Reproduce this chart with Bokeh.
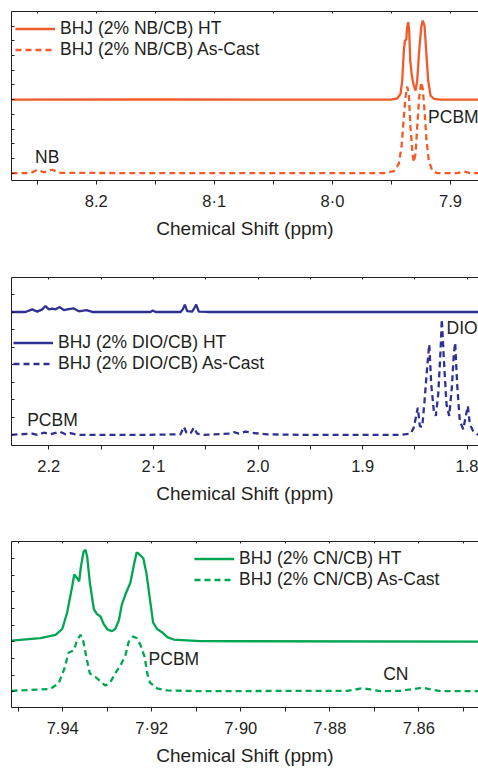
from bokeh.plotting import figure
from bokeh.layouts import column
from bokeh.models import (Range1d, FixedTicker, SingleIntervalTicker, LinearAxis,
                          CustomJSTickFormatter, Legend, LegendItem)
from bokeh.core.properties import value
from bokeh.embed import file_html
from bokeh.resources import INLINE

FONT = "Liberation Sans"
TXT = "#231F20"
AX = "#231F20"

# ---------------- Panel 1: NB ----------------
nb_ht_ppm = [8.2717, 8.15, 8.05, 7.9508, 7.9451, 7.9423, 7.9409, 7.9395, 7.9386, 7.9375,
             7.9367, 7.9358, 7.9350, 7.9341, 7.9328, 7.9311, 7.9296, 7.9282, 7.9265,
             7.9248, 7.9235, 7.9220, 7.9206, 7.9189, 7.9169, 7.9141, 7.9085, 7.8763]
nb_ht_int = [5.0, 5.02, 5.0, 5.01, 5.08, 5.4, 6.3, 8.34, 9.02, 9.07,
             9.93, 10.27, 9.7, 7.66, 6.64, 5.96, 5.62, 6.3, 8.34,
             9.93, 10.38, 10.04, 8.34, 6.3, 5.28, 5.06, 5.01, 5.0]
nb_cast_ppm = [8.2717, 8.2556, 8.2500, 8.2444, 8.2373, 8.2302, 8.1543, 7.9565, 7.9480,
               7.9438, 7.9415, 7.9395, 7.9381, 7.9367, 7.9353, 7.9339, 7.9322, 7.9311,
               7.9296, 7.9282, 7.9265, 7.9248, 7.9235, 7.9220, 7.9203, 7.9184, 7.9155,
               7.9113, 7.8943, 7.8887, 7.8831, 7.8763]
nb_cast_int = [0.0, 0.0, 0.23, 0.06, 0.23, 0.02, 0.0, 0.0, 0.13,
               0.64, 1.77, 3.81, 5.17, 5.89, 5.4, 3.13, 1.32, 0.75,
               1.32, 3.13, 5.17, 6.19, 5.74, 4.26, 2.22, 0.86, 0.18,
               0.0, 0.0, 0.11, 0.0, 0.0]
nb_labels = ["NB", "PCBM"]
nb_label_ppm = [8.2517, 7.9190]
nb_label_int = [1.13, 3.81]
nb_legend = ["BHJ (2% NB/CB) HT", "BHJ (2% NB/CB) As-Cast"]
nb_ticks = [8.25, 8.2, 8.15, 8.1, 8.05, 8.0, 7.95, 7.9]
nb_tick_labels = ["", "8.2", "", "8·1", "", "8·0", "", "7.9"]

# ---------------- Panel 2: DIO ----------------
dio_ht_ppm = [2.2357, 2.2223, 2.2159, 2.2111, 2.2063, 2.2032, 2.2000, 2.1968, 2.1936,
              2.1895, 2.1857, 2.1824, 2.1761, 2.1713, 2.1640, 2.1585, 2.1028, 2.1006,
              2.0980, 2.0741, 2.0719, 2.0700, 2.0677, 2.0629, 2.0607, 2.0591, 2.0566,
              2.0486, 1.7892]
dio_ht_int = [7.02, 7.02, 7.17, 7.04, 7.17, 7.36, 7.17, 7.21, 7.17,
              7.30, 7.13, 7.17, 7.22, 7.06, 7.12, 7.02, 7.02, 7.10,
              7.02, 7.02, 7.17, 7.44, 7.07, 7.04, 7.26, 7.44, 7.04,
              7.02, 7.02]
dio_cast_ppm = [2.2357, 2.2159, 2.2111, 2.2048, 2.1984, 2.1895, 2.1840, 2.1793, 2.1728,
                2.1059, 2.0741, 2.0709, 2.0684, 2.0645, 2.0614, 2.0581, 2.0518, 2.0263,
                2.0231, 2.0183, 2.0119, 2.0040, 1.9912, 1.9594, 1.8638, 1.8542, 1.8511,
                1.8485, 1.8472, 1.8453, 1.8430, 1.8408, 1.8383, 1.8363, 1.8344, 1.8319,
                1.8300, 1.8277, 1.8255, 1.8243, 1.8224, 1.8198, 1.8172, 1.8147, 1.8128,
                1.8115, 1.8096, 1.8071, 1.8038, 1.8010, 1.7994, 1.7975, 1.7943, 1.7904,
                1.7892]
dio_cast_int = [0.0, 0.07, 0.0, 0.12, 0.03, 0.18, 0.03, 0.10, 0.0,
                0.0, 0.03, 0.46, 0.12, 0.07, 0.41, 0.07, 0.0, 0.07,
                0.15, 0.07, 0.18, 0.10, 0.03, 0.0, 0.0, 0.06, 0.41,
                1.17, 1.55, 0.50, 0.45, 1.93, 3.84, 5.17, 2.89, 1.36,
                1.08, 2.32, 4.79, 6.60, 4.41, 1.74, 1.08, 2.69, 4.60,
                5.26, 2.89, 0.79, 0.32, 1.17, 1.65, 0.60, 0.22, 0.03,
                0.0]
dio_labels = ["DIO", "PCBM"]
dio_label_ppm = [1.8197, 2.2207]
dio_label_int = [6.12, 0.83]
dio_legend = ["BHJ (2% DIO/CB) HT", "BHJ (2% DIO/CB) As-Cast"]
dio_ticks = [2.2, 2.15, 2.1, 2.05, 2.0, 1.95, 1.9, 1.85, 1.8]
dio_tick_labels = ["2.2", "", "2·1", "", "2.0", "", "1.9", "", "1.8"]

# ---------------- Panel 3: CN ----------------
cn_ht_ppm = [7.9515, 7.9450, 7.9416, 7.9401, 7.9390, 7.9380, 7.9374, 7.9368, 7.9363,
             7.9359, 7.9353, 7.9349, 7.9345, 7.9339, 7.9330, 7.9323, 7.9315, 7.9308,
             7.9299, 7.9289, 7.9282, 7.9274, 7.9267, 7.9259, 7.9248, 7.9240, 7.9234,
             7.9229, 7.9219, 7.9212, 7.9204, 7.9197, 7.9188, 7.9177, 7.9165, 7.9151,
             7.9091, 7.8467]
cn_ht_int = [3.08, 3.22, 3.42, 3.77, 4.76, 6.14, 7.03, 6.83, 6.63,
             7.52, 8.41, 8.51, 8.11, 6.54, 4.96, 4.66, 4.52, 4.07,
             3.73, 3.64, 3.77, 4.27, 5.25, 5.85, 6.54, 7.62, 8.35,
             8.27, 8.01, 7.13, 5.55, 4.17, 3.77, 3.58, 3.28, 3.14,
             3.04, 3.02]
cn_cast_ppm = [7.9515, 7.9428, 7.9409, 7.9396, 7.9387, 7.9375, 7.9368, 7.9360, 7.9354,
               7.9347, 7.9339, 7.9327, 7.9315, 7.9304, 7.9293, 7.9282, 7.9270, 7.9259,
               7.9252, 7.9242, 7.9233, 7.9225, 7.9216, 7.9210, 7.9204, 7.9188, 7.9165,
               7.9091, 7.8761, 7.8746, 7.8727, 7.8709, 7.8686, 7.8641, 7.8611, 7.8592,
               7.8574, 7.8551, 7.8467]
cn_cast_int = [0.07, 0.18, 0.52, 1.41, 2.35, 2.49, 3.08, 3.42, 3.08,
               2.10, 1.11, 0.91, 0.62, 0.38, 0.58, 1.11, 1.60, 2.20,
               2.99, 3.32, 3.22, 2.79, 2.10, 1.11, 0.56, 0.22, 0.09,
               0.05, 0.07, 0.13, 0.22, 0.15, 0.05, 0.07, 0.18, 0.26,
               0.16, 0.05, 0.05]
cn_labels = ["PCBM", "CN"]
cn_label_ppm = [7.9207, 7.8680]
cn_label_int = [1.96, 1.05]
cn_legend = ["BHJ (2% CN/CB) HT", "BHJ (2% CN/CB) As-Cast"]
cn_ticks = [7.95, 7.94, 7.93, 7.92, 7.91, 7.90, 7.89, 7.88, 7.87, 7.86, 7.85]
cn_tick_labels = ["", "7.94", "", "7·92", "", "7·90", "", "7·88", "", "7.86", ""]

XLABEL = "Chemical Shift (ppm)"


def panel(height, top, bottom, xr, yr, ticks, tick_labels, color, ht, cast, legend_labels,
          legend_loc, labels):
    p = figure(width=478, height=height, x_range=Range1d(*xr), y_range=Range1d(*yr),
               x_axis_type=None, y_axis_type=None, output_backend="svg",
               toolbar_location=None, min_border_left=11, min_border_right=0,
               min_border_top=top, min_border_bottom=bottom)
    p.outline_line_color = None
    p.background_fill_color = "white"
    p.border_fill_color = "white"

    xa = LinearAxis(ticker=FixedTicker(ticks=ticks),
                    major_label_overrides=dict(zip(ticks, tick_labels)),
                    axis_label=XLABEL,
                    major_tick_in=0, major_tick_out=4, minor_tick_in=0, minor_tick_out=0,
                    axis_line_color=AX, major_tick_line_color=AX,
                    major_label_text_font=FONT, major_label_text_font_size="16.5px",
                    major_label_text_color=TXT, major_label_standoff=7,
                    axis_label_text_font=FONT, axis_label_text_font_size="19px",
                    axis_label_text_font_style="normal", axis_label_text_color=TXT,
                    axis_label_standoff=5)
    p.add_layout(xa, "below")

    ta = LinearAxis(ticker=FixedTicker(ticks=ticks),
                    formatter=CustomJSTickFormatter(code="return ''"),
                    major_tick_in=2, major_tick_out=0, minor_tick_in=0, minor_tick_out=0,
                    axis_line_color=AX, major_tick_line_color=AX,
                    major_label_text_font_size="1px", major_label_standoff=0)
    p.add_layout(ta, "above")

    ya = LinearAxis(ticker=SingleIntervalTicker(interval=1, num_minor_ticks=0),
                    formatter=CustomJSTickFormatter(code="return ''"),
                    major_tick_in=3, major_tick_out=0, minor_tick_in=0, minor_tick_out=0,
                    axis_line_color=AX, major_tick_line_color=AX,
                    major_label_text_font_size="1px", major_label_standoff=0)
    p.add_layout(ya, "left")

    r1 = p.line(ht[0], ht[1], line_color=color, line_width=2.3)
    r2 = p.line(cast[0], cast[1], line_color=color, line_width=2.3, line_dash="6 4")

    p.text(x=labels[1], y=labels[2], text=labels[0], text_font=value(FONT),
           text_font_size=value("17.5px"), text_color=TXT, text_baseline="middle",
           text_align="left")

    leg = Legend(items=[LegendItem(label=legend_labels[0], renderers=[r1]),
                        LegendItem(label=legend_labels[1], renderers=[r2])],
                 location=legend_loc, orientation="vertical",
                 border_line_color=None, background_fill_alpha=0,
                 label_text_font=FONT, label_text_font_size="17.5px", label_text_color=TXT,
                 glyph_width=40, glyph_height=21, label_height=21, label_standoff=5,
                 spacing=0, padding=0, margin=0)
    p.add_layout(leg)
    return p


p1 = panel(266, 11, 86, (8.2717, 7.8763), (-0.5, 11.0), nb_ticks, nb_tick_labels, "#F15A29",
           (nb_ht_ppm, nb_ht_int), (nb_cast_ppm, nb_cast_int), nb_legend, (4, 120.5),
           (nb_labels, nb_label_ppm, nb_label_int))
p2 = panel(263, 11, 84, (2.2357, 1.7892), (-0.61, 8.99), dio_ticks, dio_tick_labels, "#2E3192",
           (dio_ht_ppm, dio_ht_int), (dio_cast_ppm, dio_cast_int), dio_legend, (2, 71.2),
           (dio_labels, dio_label_ppm, dio_label_int))
p3 = panel(239, 12, 59, (7.9515, 7.8466), (-0.93, 9.01), cn_ticks, cn_tick_labels, "#00A651",
           (cn_ht_ppm, cn_ht_int), (cn_cast_ppm, cn_cast_int), cn_legend, (183, 116.8),
           (cn_labels, cn_label_ppm, cn_label_int))

layout = column(p1, p2, p3, spacing=0)
open("out.html", "w").write(file_html(layout, INLINE))
